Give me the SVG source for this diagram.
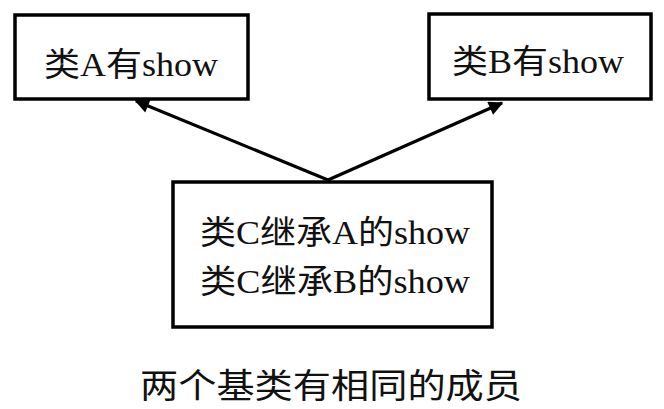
<svg xmlns="http://www.w3.org/2000/svg" width="664" height="409" viewBox="0 0 664 409">
<style>
.box{fill:#fff;stroke:#000;stroke-width:3.5}
.lbl{font-family:"Liberation Serif","Noto Sans CJK SC",serif;font-size:33px;fill:#111}
.ttl{font-family:"Noto Sans CJK SC","Liberation Sans",sans-serif;font-size:34px;fill:#111}
.con{stroke:#000;stroke-width:3.2;fill:none}
</style>
<defs>
<marker id="ah" viewBox="0 0 10 10" refX="9" refY="5" markerWidth="5" markerHeight="4.5" orient="auto" markerUnits="strokeWidth">
<path d="M0,0 L10,5 L0,10 z" fill="#000"/>
</marker>
</defs>
<rect width="664" height="409" fill="#fff"/>
<g id="nodeA">
<rect class="box" x="15" y="15" width="233" height="84"/>
<text class="lbl" x="44" y="76" textLength="174" lengthAdjust="spacingAndGlyphs">类A有show</text>
</g>
<g id="nodeB">
<rect class="box" x="429" y="14" width="222" height="85"/>
<text class="lbl" x="452" y="73" textLength="172" lengthAdjust="spacingAndGlyphs">类B有show</text>
</g>
<g id="nodeC">
<rect class="box" x="173" y="182" width="319" height="145"/>
<text class="lbl" x="200" y="244" textLength="270" lengthAdjust="spacingAndGlyphs">类C继承A的show</text>
<text class="lbl" x="200" y="293" textLength="270" lengthAdjust="spacingAndGlyphs">类C继承B的show</text>
</g>
<g id="connectors">
<line class="con" x1="328" y1="180" x2="136" y2="101" marker-end="url(#ah)"/>
<line class="con" x1="328" y1="180" x2="502" y2="103" marker-end="url(#ah)"/>
</g>
<text class="ttl" x="140" y="398" textLength="382" lengthAdjust="spacingAndGlyphs">两个基类有相同的成员</text>
</svg>
